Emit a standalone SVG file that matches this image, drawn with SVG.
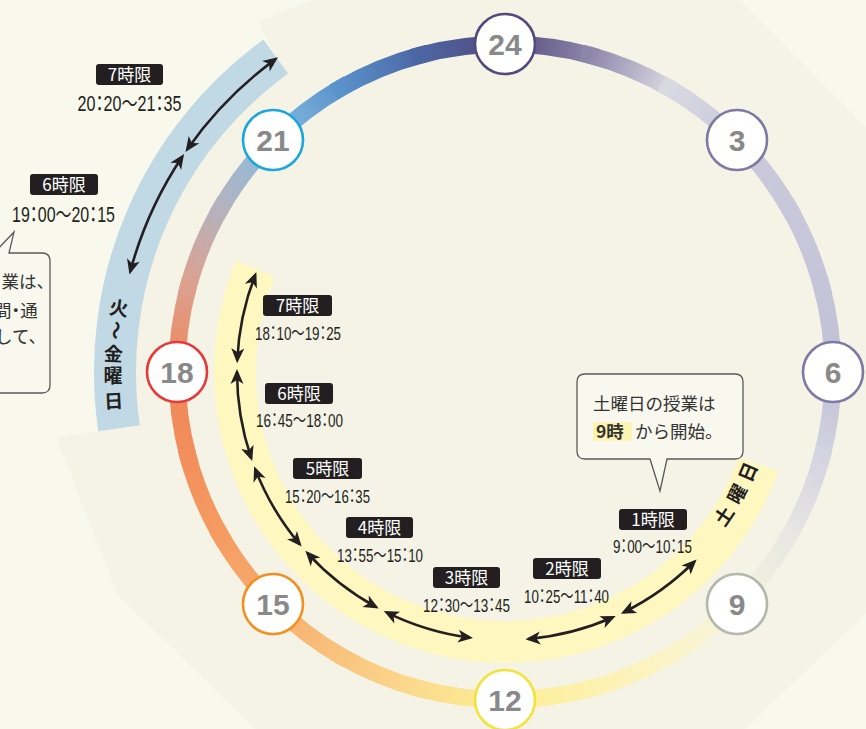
<svg xmlns="http://www.w3.org/2000/svg" width="866" height="729" viewBox="0 0 866 729">
<defs>
<style>
.ring{fill:none;stroke-width:17;stroke-linecap:square}
.nc{fill:#fff;stroke-width:2.6}
.nt{font-family:"Liberation Sans",Arial,sans-serif;font-weight:bold;font-size:30px;fill:#898989;text-anchor:middle}
.arr{fill:none;stroke:#231f20;stroke-width:2.6;marker-start:url(#ah);marker-end:url(#ah)}
.box{fill:#231f20}
.bt{font-family:"Noto Sans CJK JP",sans-serif;font-size:17px;fill:#fff;text-anchor:middle}
.tt{font-family:"Liberation Sans","Noto Sans CJK JP",sans-serif;fill:#231f20;text-anchor:middle;font-feature-settings:"palt"}
.tw{font-size:22px}
.ts{font-size:19px}
.bd{font-family:"Noto Sans CJK JP",sans-serif;font-weight:bold;font-size:19px;fill:#231f20;text-anchor:middle}
.co{fill:#f8f8ee;stroke:#5a5a5a;stroke-width:1.3}
.ct{font-family:"Noto Sans CJK JP",sans-serif;font-size:17.5px;fill:#333}
.pa{font-feature-settings:"palt"}
</style>
<marker id="ah" markerUnits="userSpaceOnUse" markerWidth="18" markerHeight="16" viewBox="-14 -8 18 16" refX="0" refY="0" orient="auto-start-reverse">
<path d="M3,0 L-12,-6.5 L-8,0 L-12,6.5 Z" fill="#231f20"/>
</marker>
<linearGradient id="g0" gradientUnits="userSpaceOnUse" x1="505" y1="44" x2="589.89" y2="55.17"><stop offset="0" stop-color="#54497c"/><stop offset="1" stop-color="#8d86ab"/></linearGradient>
<linearGradient id="g1" gradientUnits="userSpaceOnUse" x1="589.89" y1="55.17" x2="669" y2="87.94"><stop offset="0" stop-color="#8d86ab"/><stop offset="1" stop-color="#d9d9e2"/></linearGradient>
<linearGradient id="g2" gradientUnits="userSpaceOnUse" x1="669" y1="87.94" x2="736.93" y2="140.07"><stop offset="0" stop-color="#d9d9e2"/><stop offset="1" stop-color="#cac8da"/></linearGradient>
<linearGradient id="g3" gradientUnits="userSpaceOnUse" x1="736.93" y1="140.07" x2="789.06" y2="208"><stop offset="0" stop-color="#cac8da"/><stop offset="1" stop-color="#c9c7da"/></linearGradient>
<linearGradient id="g4" gradientUnits="userSpaceOnUse" x1="789.06" y1="208" x2="821.83" y2="287.11"><stop offset="0" stop-color="#c9c7da"/><stop offset="1" stop-color="#c6c4d8"/></linearGradient>
<linearGradient id="g5" gradientUnits="userSpaceOnUse" x1="821.83" y1="287.11" x2="833" y2="372"><stop offset="0" stop-color="#c6c4d8"/><stop offset="1" stop-color="#c2c0d6"/></linearGradient>
<linearGradient id="g6" gradientUnits="userSpaceOnUse" x1="833" y1="372" x2="821.83" y2="456.89"><stop offset="0" stop-color="#c2c0d6"/><stop offset="1" stop-color="#d4d3e0"/></linearGradient>
<linearGradient id="g7" gradientUnits="userSpaceOnUse" x1="821.83" y1="456.89" x2="789.06" y2="536"><stop offset="0" stop-color="#d4d3e0"/><stop offset="1" stop-color="#e8e7e3"/></linearGradient>
<linearGradient id="g8" gradientUnits="userSpaceOnUse" x1="789.06" y1="536" x2="736.93" y2="603.93"><stop offset="0" stop-color="#e8e7e3"/><stop offset="1" stop-color="#f6f3dc"/></linearGradient>
<linearGradient id="g9" gradientUnits="userSpaceOnUse" x1="736.93" y1="603.93" x2="669" y2="656.06"><stop offset="0" stop-color="#f6f3dc"/><stop offset="1" stop-color="#fbf4c8"/></linearGradient>
<linearGradient id="g10" gradientUnits="userSpaceOnUse" x1="669" y1="656.06" x2="589.89" y2="688.83"><stop offset="0" stop-color="#fbf4c8"/><stop offset="1" stop-color="#fdf1ae"/></linearGradient>
<linearGradient id="g11" gradientUnits="userSpaceOnUse" x1="589.89" y1="688.83" x2="505" y2="700"><stop offset="0" stop-color="#fdf1ae"/><stop offset="1" stop-color="#fdee94"/></linearGradient>
<linearGradient id="g12" gradientUnits="userSpaceOnUse" x1="505" y1="700" x2="420.11" y2="688.83"><stop offset="0" stop-color="#fdee94"/><stop offset="1" stop-color="#fbdc8e"/></linearGradient>
<linearGradient id="g13" gradientUnits="userSpaceOnUse" x1="420.11" y1="688.83" x2="341" y2="656.06"><stop offset="0" stop-color="#fbdc8e"/><stop offset="1" stop-color="#f9c47e"/></linearGradient>
<linearGradient id="g14" gradientUnits="userSpaceOnUse" x1="341" y1="656.06" x2="273.07" y2="603.93"><stop offset="0" stop-color="#f9c47e"/><stop offset="1" stop-color="#f7ac6c"/></linearGradient>
<linearGradient id="g15" gradientUnits="userSpaceOnUse" x1="273.07" y1="603.93" x2="220.94" y2="536"><stop offset="0" stop-color="#f7ac6c"/><stop offset="1" stop-color="#f59c62"/></linearGradient>
<linearGradient id="g16" gradientUnits="userSpaceOnUse" x1="220.94" y1="536" x2="188.17" y2="456.89"><stop offset="0" stop-color="#f59c62"/><stop offset="1" stop-color="#f28f5c"/></linearGradient>
<linearGradient id="g17" gradientUnits="userSpaceOnUse" x1="188.17" y1="456.89" x2="177" y2="372"><stop offset="0" stop-color="#f28f5c"/><stop offset="1" stop-color="#ef855a"/></linearGradient>
<linearGradient id="g18" gradientUnits="userSpaceOnUse" x1="177" y1="372" x2="188.17" y2="287.11"><stop offset="0" stop-color="#ef855a"/><stop offset="1" stop-color="#dda08e"/></linearGradient>
<linearGradient id="g19" gradientUnits="userSpaceOnUse" x1="188.17" y1="287.11" x2="220.94" y2="208"><stop offset="0" stop-color="#dda08e"/><stop offset="1" stop-color="#b5b2be"/></linearGradient>
<linearGradient id="g20" gradientUnits="userSpaceOnUse" x1="220.94" y1="208" x2="273.07" y2="140.07"><stop offset="0" stop-color="#b5b2be"/><stop offset="1" stop-color="#88bedf"/></linearGradient>
<linearGradient id="g21" gradientUnits="userSpaceOnUse" x1="273.07" y1="140.07" x2="341" y2="87.94"><stop offset="0" stop-color="#88bedf"/><stop offset="1" stop-color="#5a92cc"/></linearGradient>
<linearGradient id="g22" gradientUnits="userSpaceOnUse" x1="341" y1="87.94" x2="420.11" y2="55.17"><stop offset="0" stop-color="#5a92cc"/><stop offset="1" stop-color="#4c66a4"/></linearGradient>
<linearGradient id="g23" gradientUnits="userSpaceOnUse" x1="420.11" y1="55.17" x2="505" y2="44"><stop offset="0" stop-color="#4c66a4"/><stop offset="1" stop-color="#54497c"/></linearGradient>
</defs>

<rect width="866" height="729" fill="#f8f8ec"/>
<path d="M258,21 L313,0 L740,0 L866,127 L866,613 L745,729 L255,729 L118,595 L56,437 L119.08,428.3 A390,390 0 0 1 275.76,56.48 Z" fill="#f4f3e5"/>

<g id="bands">
<path d="M119.08,428.3 A390,390 0 0 1 275.76,56.48" fill="none" stroke="#c1d9e5" stroke-width="42"/>
<path d="M758.72,464.35 A270,270 0 1 1 255.55,268.68" fill="none" stroke="#fef8c0" stroke-width="42"/>
<text class="bd" transform="translate(118,315) rotate(8)">火</text>
<text class="bd" transform="translate(115,330) rotate(96)" dy="6">〜</text>
<text class="bd" transform="translate(113,361) rotate(3)">金</text>
<text class="bd" transform="translate(113,383) rotate(0)">曜</text>
<text class="bd" transform="translate(114,408) rotate(-3)">日</text>
<text class="bd" transform="translate(724,516) rotate(-56)" dy="7">土</text>
<text class="bd" transform="translate(737,494) rotate(-62)" dy="7">曜</text>
<text class="bd" transform="translate(748,472) rotate(-67)" dy="7">日</text>
</g>

<g id="ring">
<path class="ring" stroke="url(#g0)" d="M505,44 A328,328 0 0 1 589.89,55.17"/>
<path class="ring" stroke="url(#g1)" d="M589.89,55.17 A328,328 0 0 1 669,87.94"/>
<path class="ring" stroke="url(#g2)" d="M669,87.94 A328,328 0 0 1 736.93,140.07"/>
<path class="ring" stroke="url(#g3)" d="M736.93,140.07 A328,328 0 0 1 789.06,208"/>
<path class="ring" stroke="url(#g4)" d="M789.06,208 A328,328 0 0 1 821.83,287.11"/>
<path class="ring" stroke="url(#g5)" d="M821.83,287.11 A328,328 0 0 1 833,372"/>
<path class="ring" stroke="url(#g6)" d="M833,372 A328,328 0 0 1 821.83,456.89"/>
<path class="ring" stroke="url(#g7)" d="M821.83,456.89 A328,328 0 0 1 789.06,536"/>
<path class="ring" stroke="url(#g8)" d="M789.06,536 A328,328 0 0 1 736.93,603.93"/>
<path class="ring" stroke="url(#g9)" d="M736.93,603.93 A328,328 0 0 1 669,656.06"/>
<path class="ring" stroke="url(#g10)" d="M669,656.06 A328,328 0 0 1 589.89,688.83"/>
<path class="ring" stroke="url(#g11)" d="M589.89,688.83 A328,328 0 0 1 505,700"/>
<path class="ring" stroke="url(#g12)" d="M505,700 A328,328 0 0 1 420.11,688.83"/>
<path class="ring" stroke="url(#g13)" d="M420.11,688.83 A328,328 0 0 1 341,656.06"/>
<path class="ring" stroke="url(#g14)" d="M341,656.06 A328,328 0 0 1 273.07,603.93"/>
<path class="ring" stroke="url(#g15)" d="M273.07,603.93 A328,328 0 0 1 220.94,536"/>
<path class="ring" stroke="url(#g16)" d="M220.94,536 A328,328 0 0 1 188.17,456.89"/>
<path class="ring" stroke="url(#g17)" d="M188.17,456.89 A328,328 0 0 1 177,372"/>
<path class="ring" stroke="url(#g18)" d="M177,372 A328,328 0 0 1 188.17,287.11"/>
<path class="ring" stroke="url(#g19)" d="M188.17,287.11 A328,328 0 0 1 220.94,208"/>
<path class="ring" stroke="url(#g20)" d="M220.94,208 A328,328 0 0 1 273.07,140.07"/>
<path class="ring" stroke="url(#g21)" d="M273.07,140.07 A328,328 0 0 1 341,87.94"/>
<path class="ring" stroke="url(#g22)" d="M341,87.94 A328,328 0 0 1 420.11,55.17"/>
<path class="ring" stroke="url(#g23)" d="M420.11,55.17 A328,328 0 0 1 505,44"/>
</g>

<g id="connectors">
<path class="arr" d="M130.22,271.58 A388,388 0 0 1 182.39,156.44"/>
<path class="arr" d="M187.17,149.45 A388,388 0 0 1 275.57,59.1"/>
<path class="arr" d="M694.5,561.5 A268,268 0 0 1 623.53,612.36"/>
<path class="arr" d="M612.94,617.3 A268,268 0 0 1 528.36,638.98"/>
<path class="arr" d="M470.02,637.71 A268,268 0 0 1 386.47,612.36"/>
<path class="arr" d="M376.09,606.96 A268,268 0 0 1 307.41,553.06"/>
<path class="arr" d="M299.7,544.27 A268,268 0 0 1 255.22,469.13"/>
<path class="arr" d="M251.22,458.15 A268,268 0 0 1 237,372"/>
<path class="arr" d="M237.25,360.31 A268,268 0 0 1 255.22,274.87"/>
</g>

<g id="node-24"><circle class="nc" stroke="#54497c" cx="505" cy="44" r="30"/><text class="nt" x="505" y="55">24</text></g>
<g id="node-3"><circle class="nc" stroke="#7f79a5" cx="737" cy="140" r="30"/><text class="nt" x="737" y="151">3</text></g>
<g id="node-6"><circle class="nc" stroke="#7f79a5" cx="833" cy="372" r="30"/><text class="nt" x="833" y="383">6</text></g>
<g id="node-9"><circle class="nc" stroke="#b4b8aa" cx="737" cy="604" r="30"/><text class="nt" x="737" y="615">9</text></g>
<g id="node-12"><circle class="nc" stroke="#f0e43a" cx="505" cy="700" r="30"/><text class="nt" x="505" y="711">12</text></g>
<g id="node-15"><circle class="nc" stroke="#f39020" cx="273" cy="604" r="30"/><text class="nt" x="273" y="615">15</text></g>
<g id="node-18"><circle class="nc" stroke="#e8393a" cx="177" cy="372" r="30"/><text class="nt" x="177" y="383">18</text></g>
<g id="node-21"><circle class="nc" stroke="#1aa7e0" cx="273" cy="140" r="30"/><text class="nt" x="273" y="151">21</text></g>

<g id="label-w7"><rect class="box" x="96" y="64" width="67" height="21" rx="3"/><text class="bt" x="129.5" y="81">7時限</text><text class="tt tw" transform="translate(129.5,111) scale(0.75,1)" textLength="138.7" lengthAdjust="spacingAndGlyphs">20：20〜21：35</text></g>
<g id="label-w6"><rect class="box" x="30" y="174" width="68" height="21" rx="3"/><text class="bt" x="64" y="191">6時限</text><text class="tt tw" transform="translate(63.5,222) scale(0.75,1)" textLength="137.3" lengthAdjust="spacingAndGlyphs">19：00〜20：15</text></g>
<g id="label-s7"><rect class="box" x="263" y="295" width="69" height="21" rx="3"/><text class="bt" x="297.5" y="312">7時限</text><text class="tt ts" transform="translate(298,340) scale(0.75,1)" textLength="114.7" lengthAdjust="spacingAndGlyphs">18：10〜19：25</text></g>
<g id="label-s6"><rect class="box" x="265" y="383" width="68" height="21" rx="3"/><text class="bt" x="299" y="400">6時限</text><text class="tt ts" transform="translate(299.5,427) scale(0.75,1)" textLength="116" lengthAdjust="spacingAndGlyphs">16：45〜18：00</text></g>
<g id="label-s5"><rect class="box" x="293" y="458" width="69" height="21" rx="3"/><text class="bt" x="327.5" y="475">5時限</text><text class="tt ts" transform="translate(327.5,503) scale(0.75,1)" textLength="113.3" lengthAdjust="spacingAndGlyphs">15：20〜16：35</text></g>
<g id="label-s4"><rect class="box" x="346" y="517" width="67" height="21" rx="3"/><text class="bt" x="379.5" y="534">4時限</text><text class="tt ts" transform="translate(380,562) scale(0.75,1)" textLength="114.7" lengthAdjust="spacingAndGlyphs">13：55〜15：10</text></g>
<g id="label-s3"><rect class="box" x="433" y="567" width="67" height="21" rx="3"/><text class="bt" x="466.5" y="584">3時限</text><text class="tt ts" transform="translate(466.5,612) scale(0.75,1)" textLength="116" lengthAdjust="spacingAndGlyphs">12：30〜13：45</text></g>
<g id="label-s2"><rect class="box" x="533" y="558" width="68" height="21" rx="3"/><text class="bt" x="567" y="575">2時限</text><text class="tt ts" transform="translate(566.5,603) scale(0.75,1)" textLength="113.3" lengthAdjust="spacingAndGlyphs">10：25〜11：40</text></g>
<g id="label-s1"><rect class="box" x="619" y="509" width="68" height="21" rx="3"/><text class="bt" x="653" y="526">1時限</text><text class="tt ts" transform="translate(652.5,553) scale(0.75,1)" textLength="105.3" lengthAdjust="spacingAndGlyphs">9：00〜10：15</text></g>

<g id="callout-left">
<path class="co" d="M-30,253 L-6,253 L14,232 L9,253 L42,253 Q50,253 50,261 L50,385 Q50,393 42,393 L-30,393 Z"/>
<text class="ct" x="1.5" y="288">業は、</text>
<text class="ct pa" x="-6" y="317">間・通</text>
<text class="ct" x="-5" y="343">して、</text>
</g>

<g id="callout-right">
<path class="co" d="M585,374 L735,374 Q743,374 743,382 L743,451 Q743,459 735,459 L667,459 L660,491 L650,459 L585,459 Q577,459 577,451 L577,382 Q577,374 585,374 Z"/>
<text class="ct" x="593" y="410">土曜日の授業は</text>
<rect x="593" y="422" width="39" height="19" fill="#fcf4b0"/>
<text class="ct" x="596" y="438" font-weight="bold" fill="#231f20">9時</text>
<text class="ct" x="635" y="438">から開始。</text>
</g>
</svg>
